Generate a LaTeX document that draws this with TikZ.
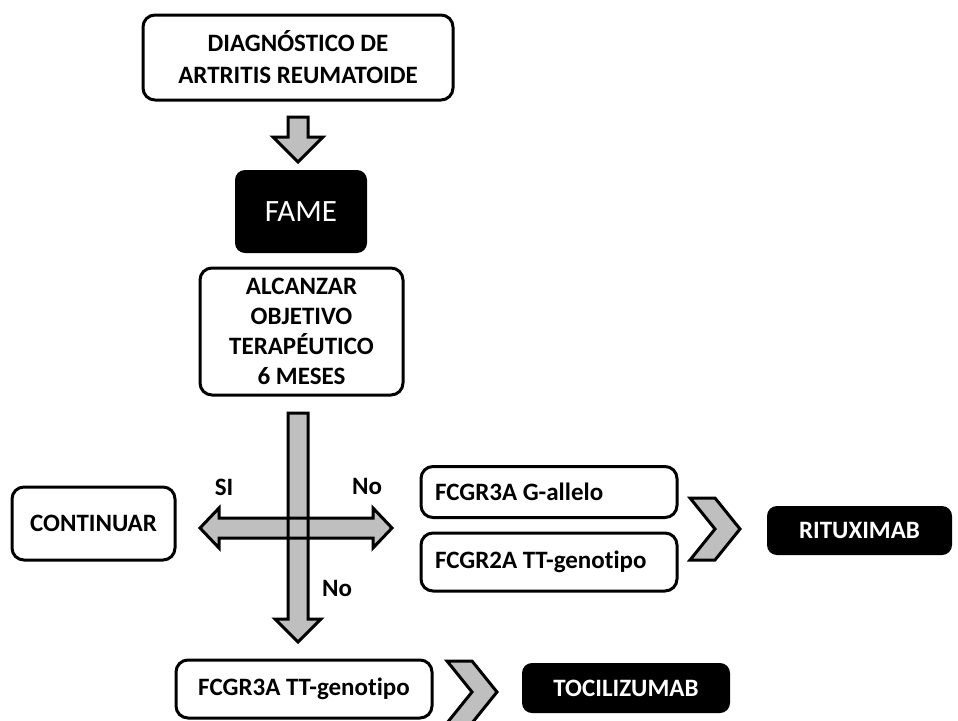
\documentclass[tikz,border=0pt]{standalone}
\usepackage{fontspec}
\setmainfont{Carlito}[Ligatures=NoCommon]
\begin{document}
\begin{tikzpicture}[x=1pt,y=-1pt,
  wbox/.style={draw, line width=3pt, rounded corners=12pt, fill=white, align=center,
    inner sep=0pt, font=\fontsize{25}{30}\selectfont\bfseries},
  lbox/.style={wbox, inner xsep=14pt},
  bbox/.style={fill=black, rounded corners=10pt, text=white, align=center,
    inner sep=0pt, font=\fontsize{25}{30}\selectfont\bfseries},
  lbl/.style={inner sep=0pt, font=\fontsize{25}{30}\selectfont\bfseries},
  blockarrow/.style={draw, line width=3pt, fill=gray!50, line join=miter},
  arrowfill/.style={fill=gray!50},
  arrowline/.style={draw, line width=3pt, line join=miter}]
\useasboundingbox (0,0) rectangle (958,720);

% nodes
\node[wbox, minimum width=310pt, minimum height=85pt, font=\fontsize{25}{32}\selectfont\bfseries] (diag) at (298,57.5) {DIAGNÓSTICO DE\\ARTRITIS REUMATOIDE};
\node[bbox, minimum width=132pt, minimum height=83pt, font=\fontsize{31}{31}\selectfont] (fame) at (301,211.5) {FAME};
\node[wbox, minimum width=203pt, minimum height=127pt] (alc) at (301.5,331.5) {ALCANZAR\\OBJETIVO\\TERAPÉUTICO\\6 MESES};
\node[wbox, minimum width=163pt, minimum height=73pt] (cont) at (93.5,523.5) {CONTINUAR};
\node[lbox, minimum height=51pt] (g3a) at (549,492) {\makebox[228pt][l]{FCGR3A G-allelo}};
\node[lbox, minimum height=58pt] (g2a) at (549,562) {\makebox[228pt][l]{FCGR2A TT-genotipo}};
\node[bbox, minimum width=185pt, minimum height=49pt] (rit) at (859.5,530.5) {RITUXIMAB};
\node[wbox, minimum width=256pt, minimum height=58pt] (tt3a) at (304,689) {FCGR3A TT-genotipo};
\node[bbox, minimum width=208pt, minimum height=50pt] (toc) at (626,688) {TOCILIZUMAB};

% labels
\node[lbl] (si) at (224,487) {SI};
\node[lbl] (no1) at (367,486) {No};
\node[lbl] (no2) at (337,588) {No};

% down arrow diag -> fame
\path[blockarrow] (288,117) -- (308,117) -- (308,137) -- (323,137) -- (298,162) -- (273,137) -- (288,137) -- cycle;

% cross arrows: fill then outline
\path[arrowfill] (200,528) -- (219,508) -- (219,518) -- (373,518) -- (373,508) -- (392,528) -- (373,548) -- (373,538) -- (219,538) -- (219,548) -- cycle;
\path[arrowfill] (288,413) -- (308,413) -- (308,619) -- (321,619) -- (298,642) -- (275,619) -- (288,619) -- cycle;
\path[arrowline] (200,528) -- (219,508) -- (219,518) -- (373,518) -- (373,508) -- (392,528) -- (373,548) -- (373,538) -- (219,538) -- (219,548) -- cycle;
\path[arrowline] (288,413) -- (308,413) -- (308,619) -- (321,619) -- (298,642) -- (275,619) -- (288,619) -- cycle;

% chevrons
\path[blockarrow] (690,498) -- (715,498) -- (740,529) -- (715,560) -- (690,560) -- (715,529) -- cycle;
\path[blockarrow] (447,661) -- (472,661) -- (497,692) -- (472,723) -- (447,723) -- (472,692) -- cycle;
\end{tikzpicture}
\end{document}
